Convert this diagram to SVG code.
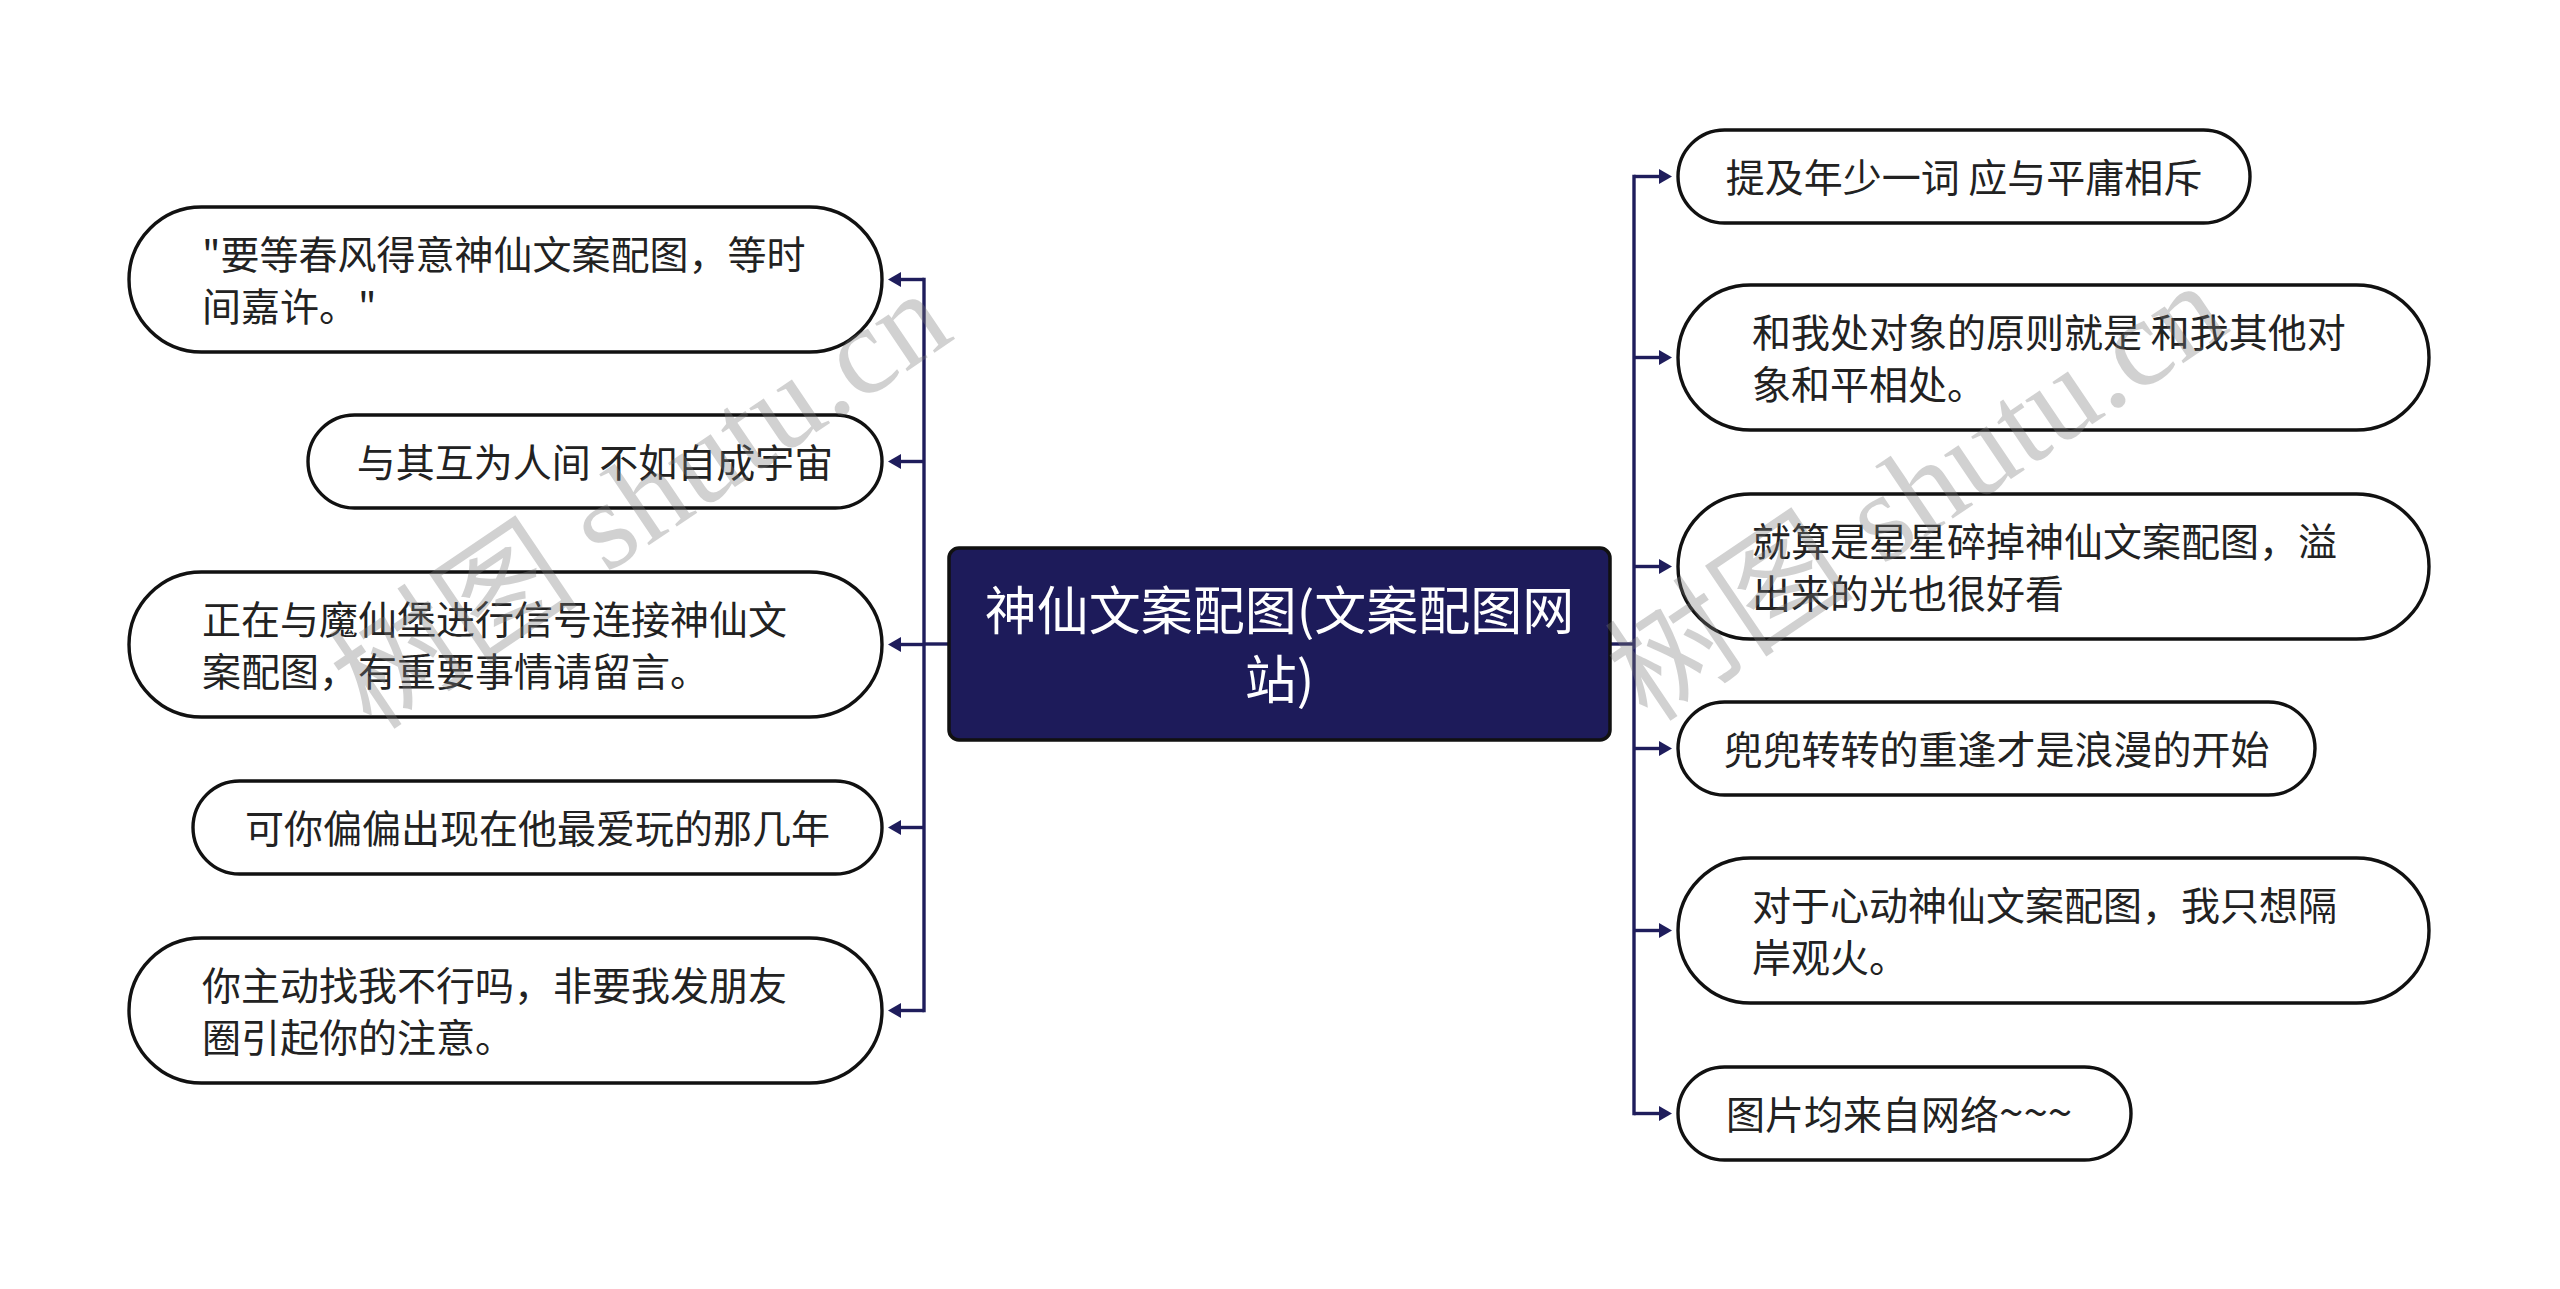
<svg xmlns="http://www.w3.org/2000/svg" width="2560" height="1289" viewBox="0 0 2560 1289">
<style>
.n{fill:#ffffff;stroke:#111111;stroke-width:3.4}
.t{font-family:"Noto Sans CJK SC","Noto Sans",sans-serif;font-size:39px;fill:#222222}
.c{font-family:"Noto Sans CJK SC","Noto Sans",sans-serif;font-size:52px;fill:#ffffff;text-anchor:middle}
.ln{fill:none;stroke:#1f1d5c;stroke-width:3.4}
.wm{font-family:"Liberation Serif","Noto Sans CJK SC",serif;font-size:125px;fill:#7a7a7a;opacity:0.34}
</style>
<defs>
<marker id="arr" markerUnits="userSpaceOnUse" markerWidth="13" markerHeight="15" refX="0" refY="7.5" orient="auto">
<path d="M0,0 L13,7.5 L0,15 Z" fill="#1f1d5c"/>
</marker>
</defs>
<rect width="2560" height="1289" fill="#ffffff"/>
<g id="connectors">
<path class="ln" d="M949,644 H924"/>
<path class="ln" d="M924,279.5 V1010.5" stroke-linecap="square"/>
<path class="ln" d="M924,279.5 H901" marker-end="url(#arr)"/>
<path class="ln" d="M924,461.5 H901" marker-end="url(#arr)"/>
<path class="ln" d="M924,644.5 H901" marker-end="url(#arr)"/>
<path class="ln" d="M924,827.5 H901" marker-end="url(#arr)"/>
<path class="ln" d="M924,1010.5 H901" marker-end="url(#arr)"/>
<path class="ln" d="M1610,644 H1634"/>
<path class="ln" d="M1634,176.5 V1113.5" stroke-linecap="square"/>
<path class="ln" d="M1634,176.5 H1659" marker-end="url(#arr)"/>
<path class="ln" d="M1634,357.5 H1659" marker-end="url(#arr)"/>
<path class="ln" d="M1634,566.5 H1659" marker-end="url(#arr)"/>
<path class="ln" d="M1634,748.5 H1659" marker-end="url(#arr)"/>
<path class="ln" d="M1634,930.5 H1659" marker-end="url(#arr)"/>
<path class="ln" d="M1634,1113.5 H1659" marker-end="url(#arr)"/>
</g>
<g id="center">
<rect x="949" y="548" width="661" height="192" rx="10" fill="#1d1b5a" stroke="#111111" stroke-width="3.5"/>
<text class="c" x="1279.5" y="630">神仙文案配图(文案配图网<tspan x="1279.5" dy="69">站)</tspan></text>
</g>
<g id="L1">
<rect class="n" x="129" y="207" width="753" height="145" rx="72.5"/>
<text class="t" x="202" y="268.5">"要等春风得意神仙文案配图，等时<tspan x="202" dy="52">间嘉许。"</tspan></text>
</g>
<g id="L2">
<rect class="n" x="308" y="415" width="574" height="93" rx="46.5"/>
<text class="t" x="595" y="476.5" text-anchor="middle">与其互为人间 不如自成宇宙</text>
</g>
<g id="L3">
<rect class="n" x="129" y="572" width="753" height="145" rx="72.5"/>
<text class="t" x="202" y="633.5">正在与魔仙堡进行信号连接神仙文<tspan x="202" dy="52">案配图，有重要事情请留言。</tspan></text>
</g>
<g id="L4">
<rect class="n" x="193" y="781" width="689" height="93" rx="46.5"/>
<text class="t" x="537.5" y="842.5" text-anchor="middle">可你偏偏出现在他最爱玩的那几年</text>
</g>
<g id="L5">
<rect class="n" x="129" y="938" width="753" height="145" rx="72.5"/>
<text class="t" x="202" y="999.5">你主动找我不行吗，非要我发朋友<tspan x="202" dy="52">圈引起你的注意。</tspan></text>
</g>
<g id="R1">
<rect class="n" x="1678" y="130" width="572" height="93" rx="46.5"/>
<text class="t" x="1964" y="191.5" text-anchor="middle">提及年少一词 应与平庸相斥</text>
</g>
<g id="R2">
<rect class="n" x="1678" y="285" width="751" height="145" rx="72.5"/>
<text class="t" x="1752" y="346.5">和我处对象的原则就是 和我其他对<tspan x="1752" dy="52">象和平相处。</tspan></text>
</g>
<g id="R3">
<rect class="n" x="1678" y="494" width="751" height="145" rx="72.5"/>
<text class="t" x="1752" y="555.5">就算是星星碎掉神仙文案配图，溢<tspan x="1752" dy="52">出来的光也很好看</tspan></text>
</g>
<g id="R4">
<rect class="n" x="1678" y="702" width="637" height="93" rx="46.5"/>
<text class="t" x="1996.5" y="763.5" text-anchor="middle">兜兜转转的重逢才是浪漫的开始</text>
</g>
<g id="R5">
<rect class="n" x="1678" y="858" width="751" height="145" rx="72.5"/>
<text class="t" x="1752" y="919.5">对于心动神仙文案配图，我只想隔<tspan x="1752" dy="52">岸观火。</tspan></text>
</g>
<g id="R6">
<rect class="n" x="1678" y="1067" width="453" height="93" rx="46.5"/>
<text class="t" x="1726" y="1128.5">图片均来自网络<tspan font-size="44px">~~~</tspan></text>
</g>
<g id="watermark">
<text class="wm" transform="translate(372,732) rotate(-34)" textLength="705" lengthAdjust="spacing">树图 shutu.cn</text>
<text class="wm" transform="translate(1648,724) rotate(-34)" textLength="705" lengthAdjust="spacing">树图 shutu.cn</text>
</g>
</svg>
